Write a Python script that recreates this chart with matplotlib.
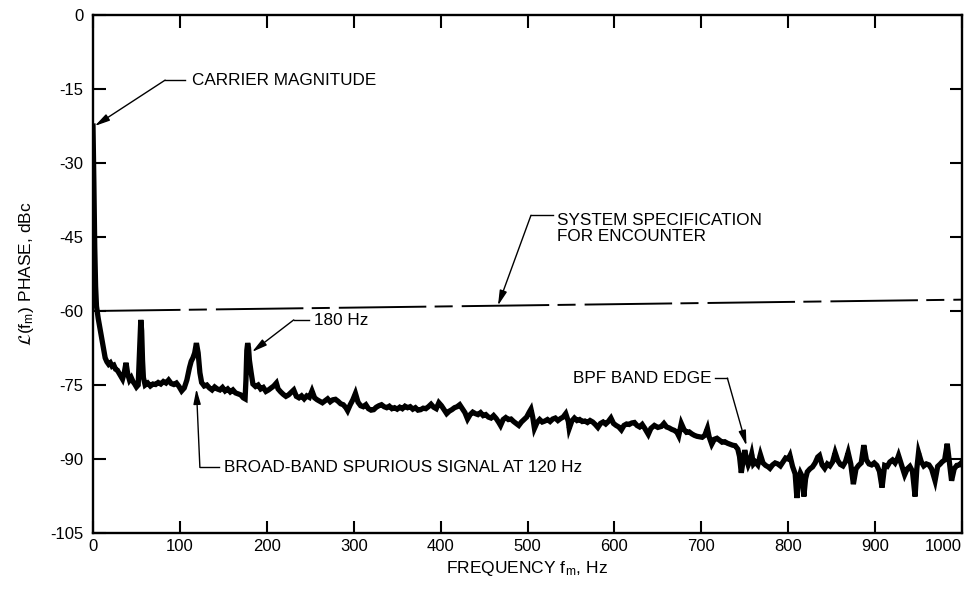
import matplotlib
matplotlib.use("Agg")
import matplotlib.pyplot as plt

plt.rcParams['font.family'] = ['Liberation Sans', 'DejaVu Sans']
plt.rcParams['axes.unicode_minus'] = False
plt.rcParams['lines.scale_dashes'] = False
plt.rcParams['mathtext.fontset'] = 'stix'

# ---- data ----
freq_hz = [0, 1, 2, 3, 4, 6, 8, 10, 12, 14, 16, 18, 20, 22, 24, 26, 28, 30, 32, 34, 36, 38, 40, 42, 44, 46, 48, 50, 52,
           54, 55, 56, 57, 58, 60, 63, 66, 69, 72, 75, 78, 81, 84, 87, 90, 93, 96, 99, 102, 105, 108, 111, 113, 115, 117,
           119, 121, 123, 125, 128, 131, 134, 137, 140, 143, 146, 149, 152, 155, 158, 161, 164, 167, 170, 173, 175, 176,
           177, 178, 179, 180, 182, 184, 187, 190, 193, 196, 199, 202, 205, 208, 211, 213, 216, 219, 222, 225, 228, 231,
           234, 237, 240, 243, 246, 249, 252, 255, 258, 261, 264, 267, 270, 273, 276, 279, 282, 285, 288, 291, 293, 296,
           299, 302, 305, 308, 311, 314, 317, 320, 323, 326, 329, 332, 335, 338, 341, 344, 347, 350, 353, 356, 359, 362,
           365, 368, 371, 374, 377, 380, 383, 386, 389, 392, 395, 398, 401, 404, 407, 410, 413, 416, 419, 422, 425, 428,
           431, 434, 437, 440, 443, 446, 449, 452, 455, 458, 461, 464, 467, 469, 472, 475, 478, 481, 484, 487, 490, 493,
           496, 499, 502, 504, 506, 508, 511, 514, 517, 520, 523, 526, 529, 532, 535, 538, 541, 544, 547, 548, 551, 554,
           557, 560, 563, 566, 569, 572, 575, 578, 581, 584, 587, 590, 593, 596, 599, 602, 605, 608, 611, 614, 617, 620,
           623, 626, 629, 632, 635, 639, 642, 646, 650, 654, 657, 660, 663, 666, 669, 672, 674, 677, 680, 683, 686, 689,
           692, 695, 698, 701, 704, 707, 709, 712, 715, 718, 721, 724, 727, 730, 733, 736, 739, 742, 744, 746, 748, 750,
           752, 754, 756, 758, 760, 762, 765, 768, 771, 774, 777, 779, 782, 785, 788, 791, 794, 797, 800, 802, 805, 808,
           810, 812, 814, 816, 818, 820, 822, 825, 828, 831, 834, 836, 839, 842, 845, 848, 851, 854, 857, 860, 863, 866,
           869, 872, 875, 878, 881, 884, 887, 890, 893, 896, 899, 902, 905, 908, 911, 914, 917, 920, 923, 926, 927, 930,
           934, 937, 940, 943, 946, 948, 950, 953, 956, 959, 962, 965, 969, 972, 975, 977, 980, 983, 986, 988, 991, 994,
           997, 1000]
phase_dbc = [-22.5, -34, -47, -55, -59, -61.5, -63.5, -65.5, -67.5, -69.5, -70.3, -70.8, -70.5, -71.2, -71.0, -71.8,
             -72.0, -72.6, -73.2, -73.8, -72.5, -70.5, -72.8, -74.0, -73.5, -74.3, -74.8, -75.4, -75.0,
             -66, -61.8, -64, -70, -73.5, -75.0, -74.6, -75.2, -74.8, -74.9, -74.5, -74.8, -74.3, -74.6, -74.0, -74.7,
             -74.9, -74.6, -75.3, -76.2, -75.6, -74.0, -71.5, -70.2, -69.5, -68.5,
             -66.5, -68.5, -72.5, -74.5, -75.2, -75.0, -75.6, -76.0, -75.4, -75.8, -76.0, -75.5, -76.2, -75.8, -76.4,
             -76.0, -76.6, -76.8, -77.0, -77.6, -77.8, -74,
             -68, -66.5, -67.5, -70.0, -72.5, -74.8, -75.3, -75.0, -75.8, -75.5, -76.3, -76.0, -75.6, -75.2, -74.6,
             -75.8, -76.4, -76.9, -77.3, -77.0, -76.5, -76.0,
             -77.3, -77.6, -77.2, -77.8, -77.2, -77.5, -76.2, -77.6, -78.0, -78.3, -78.6, -78.2, -77.8, -78.4, -78.0,
             -77.9, -78.3, -78.8, -79.0, -79.6, -80.2, -79.0,
             -78.0, -76.7, -78.5, -79.2, -79.4, -79.0, -79.8, -80.1, -80.0, -79.5, -79.2, -79.0, -79.4, -79.6, -79.3,
             -79.8, -79.6, -79.9, -79.5, -79.8, -79.3, -79.6,
             -79.4, -79.9, -79.6, -80.1, -80.0, -79.7, -79.8, -79.4, -78.9, -79.5, -79.8, -78.6, -79.2, -80.0, -80.8,
             -80.3, -80.0, -79.6, -79.4, -79.0, -79.8, -80.6,
             -81.9, -81.0, -80.5, -80.8, -81.0, -80.6, -81.2, -81.0, -81.5, -81.7, -81.2, -81.8, -82.6, -83.2, -82.0,
             -81.6, -82.0, -81.9, -82.4, -82.8, -83.2, -82.5,
             -82.0, -81.5, -80.5, -79.9, -81.5, -83.8, -82.6, -82.0, -82.5, -82.3, -82.0, -82.4, -81.9, -81.7, -82.2,
             -81.8, -81.5, -80.8, -82.4, -83.8, -82.3, -81.7,
             -82.2, -82.0, -82.4, -82.3, -82.6, -82.2, -82.5, -83.0, -83.6, -82.8, -82.5, -82.9, -82.4, -81.7, -82.8,
             -83.2, -83.5, -84.1, -83.2, -82.9, -83.0, -82.7,
             -82.6, -83.2, -83.5, -83.0, -83.8, -85.0, -83.8, -83.2, -83.6, -83.4, -82.8, -83.5, -83.7, -84.0, -84.2,
             -84.6, -85.3, -82.8, -84.0, -84.6, -84.5, -84.9,
             -85.2, -85.4, -85.5, -85.6, -85.2, -83.8, -85.5, -87.0, -86.0, -85.8, -86.2, -86.6, -86.5, -86.8, -87.0,
             -87.2, -87.3, -88.0, -89.5, -92.8, -90.5, -88.2,
             -90.0, -91.2, -90.4, -89.0, -91.0, -90.6, -91.2, -89.1, -90.8, -91.3, -91.6, -91.9, -91.2, -90.8, -91.0,
             -91.4, -90.6, -89.8, -90.0, -89.3, -91.5, -93.0,
             -97.9, -94.0, -92.8, -93.5, -97.6, -94.0, -92.6, -92.0, -91.6, -90.8, -89.6, -89.3, -91.2, -91.9, -91.0,
             -91.4, -90.6, -88.7, -90.3, -91.1, -91.4, -90.5,
             -88.7, -91.0, -95.1, -92.0, -91.3, -90.8, -87.2, -90.2, -91.0, -91.2, -90.8, -91.3, -92.5, -95.8, -91.3,
             -91.5, -90.6, -90.2, -90.8, -89.8, -89.3, -91.0,
             -93.2, -92.0, -91.5, -92.5, -97.6, -92.0, -88.7, -90.5, -91.4, -91.0, -91.2, -92.0, -94.4, -91.5, -91.0,
             -90.6, -90.2, -86.9, -91.5, -94.4, -92.0, -91.3,
             -91.2, -90.6]

spec_freq_hz = [0, 1000]
spec_dbc = [-60.0, -57.7]

x_ticks = [0, 100, 200, 300, 400, 500, 600, 700, 800, 900, 1000]
y_ticks = [0, -15, -30, -45, -60, -75, -90, -105]

# ---- figure ----
fig = plt.figure(figsize=(9.67, 5.90), dpi=100)
ax = fig.add_axes([93 / 967, 1 - 533 / 590, (962 - 93) / 967, (533 - 15) / 590])

ax.plot(freq_hz, phase_dbc, color='black', lw=3.8, solid_joinstyle='miter', zorder=3)
ax.plot(spec_freq_hz, spec_dbc, color='black', lw=1.4,
        dashes=(63, 6, 13, 6.5), dash_capstyle='butt', zorder=2)

ax.set_xlim(0, 1000)
ax.set_ylim(-105, 0)
ax.set_xticks(x_ticks)
ax.set_yticks(y_ticks)
ax.set_xticklabels([str(v) for v in x_ticks])
ax.set_yticklabels([str(v) for v in y_ticks])
ax.tick_params(direction='in', length=9, width=1.5, labelsize=12, top=True, right=True)
ax.tick_params(axis='y', pad=7)
ax.tick_params(axis='x', pad=4)
for s in ax.spines.values():
    s.set_linewidth(1.7)

ax.set_xlabel('FREQUENCY f$_\\mathregular{m}$, Hz', fontsize=12.5, labelpad=4)
ax.set_ylabel('$\\mathcal{L}$(f$_\\mathregular{m}$) PHASE, dBc', fontsize=12.5, labelpad=10)

arrow = dict(arrowstyle='-|>,head_length=0.9,head_width=0.22', color='black', lw=1.0,
             shrinkA=0, shrinkB=0)
fs = 12.3

# CARRIER MAGNITUDE
ax.plot([83, 106], [-13.2, -13.2], color='black', lw=1.0)
ax.annotate('', xy=(2, -22.5), xytext=(83, -13.2), arrowprops=arrow)
ax.text(114, -13.2, 'CARRIER MAGNITUDE', fontsize=fs, va='center', ha='left')

# 180 Hz
ax.plot([231, 249], [-61.8, -61.8], color='black', lw=1.0)
ax.annotate('', xy=(183, -68.3), xytext=(231, -61.8), arrowprops=arrow)
ax.text(254, -62.0, '180 Hz', fontsize=fs, va='center', ha='left')

# SYSTEM SPECIFICATION
ax.plot([504, 529], [-40.6, -40.6], color='black', lw=1.0)
ax.annotate('', xy=(466, -58.9), xytext=(504, -40.6), arrowprops=arrow)
ax.text(534, -40.2, 'SYSTEM SPECIFICATION\nFOR ENCOUNTER', fontsize=fs, va='top', ha='left',
        linespacing=1.05)

# BPF BAND EDGE
ax.plot([716, 730], [-73.6, -73.6], color='black', lw=1.0)
ax.annotate('', xy=(752, -87.3), xytext=(730, -73.6), arrowprops=arrow)
ax.text(712, -73.6, 'BPF BAND EDGE', fontsize=fs, va='center', ha='right')

# BROAD-BAND SPURIOUS SIGNAL
ax.plot([123, 145], [-91.7, -91.7], color='black', lw=1.0)
ax.annotate('', xy=(119, -75.8), xytext=(123, -91.7), arrowprops=arrow)
ax.text(151, -91.8, 'BROAD-BAND SPURIOUS SIGNAL AT 120 Hz', fontsize=fs, va='center', ha='left')

lbls = ax.get_xticklabels()
lbls[-1].set_ha('right')
lbls[-1].set_x(1)

fig.savefig('out.png', dpi=100)
